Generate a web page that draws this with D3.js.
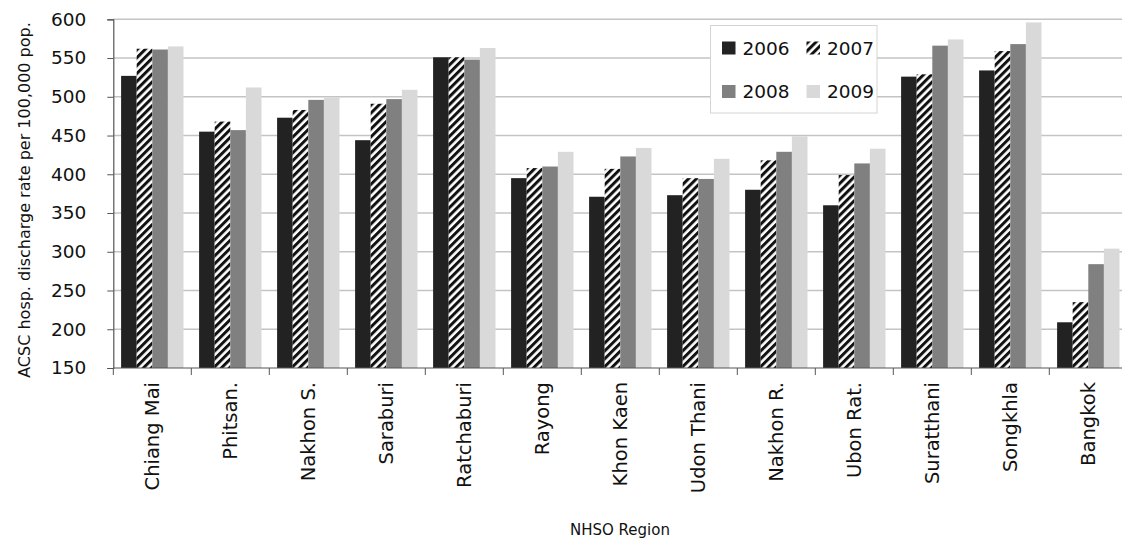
<!DOCTYPE html>
<html>
<head>
<meta charset="utf-8">
<script src="https://cdn.jsdelivr.net/npm/d3@7"></script>
<style>
  body { margin: 0; background: #fff; }
  svg { display: block; font-family: "DejaVu Sans", sans-serif; }
</style>
</head>
<body>
<svg id="chart"></svg>
<script>
// Data
const categories = ["Chiang Mai", "Phitsan.", "Nakhon S.", "Saraburi", "Ratchaburi", "Rayong",
  "Khon Kaen", "Udon Thani", "Nakhon R.", "Ubon Rat.", "Suratthani", "Songkhla", "Bangkok"];
const years = ["2006", "2007", "2008", "2009"];
const v2006 = [527, 455, 473, 444, 551, 395, 371, 373, 380, 360, 526, 534, 209];
const v2007 = [562, 468, 483, 491, 551, 408, 407, 395, 418, 399, 529, 559, 235];
const v2008 = [561, 457, 496, 497, 548, 410, 423, 394, 429, 414, 566, 568, 284];
const v2009 = [565, 512, 499, 509, 563, 429, 434, 420, 449, 433, 574, 596, 304];
const yTicks = [150, 200, 250, 300, 350, 400, 450, 500, 550, 600];

const series = [v2006, v2007, v2008, v2009];
const fills = ["#222222", "url(#hatch)", "#808080", "#d9d9d9"];

const width = 1122, height = 544;
const plotLeft = 113.3, plotTop = 19.3, plotBottom = 368, band = 78;

const svg = d3.select("#chart")
  .attr("width", width)
  .attr("height", height)
  .attr("viewBox", `0 0 ${width} ${height}`);

// Hatch pattern for 2007
const pat = svg.append("defs").append("pattern")
  .attr("id", "hatch")
  .attr("patternUnits", "userSpaceOnUse")
  .attr("width", 5.6)
  .attr("height", 5.6)
  .attr("patternTransform", "rotate(45)");
pat.append("rect").attr("width", 5.6).attr("height", 5.6).attr("fill", "#fff");
pat.append("rect").attr("width", 3).attr("height", 5.6).attr("fill", "#111");

// Scales
const x = d3.scaleBand()
  .domain(categories)
  .range([plotLeft, plotLeft + band * categories.length]);

const xSub = d3.scaleBand()
  .domain(years)
  .range([0, x.bandwidth()])
  .paddingOuter(0.5);

const y = d3.scaleLinear()
  .domain([150, 600])
  .range([plotBottom, plotTop]);

// Gridlines
svg.append("g")
  .selectAll("line")
  .data(yTicks.slice(1))
  .enter()
  .append("line")
  .attr("x1", plotLeft)
  .attr("x2", width)
  .attr("y1", d => y(d))
  .attr("y2", d => y(d))
  .attr("stroke", "#c4c4c4")
  .attr("stroke-width", 1.6);

// Bars
const groups = svg.append("g")
  .selectAll("g")
  .data(categories)
  .enter()
  .append("g")
  .attr("transform", d => `translate(${x(d)},0)`);

groups.selectAll("rect")
  .data((d, i) => years.map((yr, j) => ({ yr, j, v: series[j][i] })))
  .enter()
  .append("rect")
  .attr("x", d => xSub(d.yr))
  .attr("width", xSub.bandwidth())
  .attr("y", d => y(d.v))
  .attr("height", d => y(150) - y(d.v))
  .attr("fill", d => fills[d.j]);

// Y axis
const yAxis = svg.append("g")
  .attr("transform", `translate(${plotLeft},0)`)
  .call(d3.axisLeft(y).tickValues(yTicks).tickSize(6).tickPadding(21));
yAxis.select(".domain").attr("stroke", "#555").attr("stroke-width", 1.2);
yAxis.selectAll(".tick line").attr("stroke", "#555");
yAxis.selectAll(".tick text")
  .attr("font-size", 18.5)
  .attr("font-family", "DejaVu Sans")
  .attr("fill", "#111");

// X axis with ticks at category boundaries
const xAxis = svg.append("g");
xAxis.append("line")
  .attr("x1", plotLeft)
  .attr("x2", width)
  .attr("y1", plotBottom)
  .attr("y2", plotBottom)
  .attr("stroke", "#555")
  .attr("stroke-width", 1.2);
xAxis.selectAll(".bt")
  .data(categories)
  .enter()
  .append("line")
  .attr("x1", d => x(d))
  .attr("x2", d => x(d))
  .attr("y1", plotBottom)
  .attr("y2", plotBottom + 7)
  .attr("stroke", "#555");
xAxis.selectAll("text")
  .data(categories)
  .enter()
  .append("text")
  .attr("transform", d => `translate(${x(d) + x.bandwidth() / 2},382) rotate(-90)`)
  .attr("text-anchor", "end")
  .attr("dy", "0.36em")
  .attr("font-size", 19.5)
  .attr("fill", "#111")
  .text(d => d);

// Axis titles
svg.append("text")
  .attr("transform", "translate(29.5,200) rotate(-90)")
  .attr("text-anchor", "middle")
  .attr("font-size", 16)
  .attr("fill", "#111")
  .text("ACSC hosp. discharge rate per 100,000 pop.");

svg.append("text")
  .attr("x", 620)
  .attr("y", 535)
  .attr("text-anchor", "middle")
  .attr("font-size", 15)
  .attr("fill", "#111")
  .text("NHSO Region");

// Legend
const legend = svg.append("g");
legend.append("rect")
  .attr("x", 710.5)
  .attr("y", 25.5)
  .attr("width", 166.5)
  .attr("height", 87.5)
  .attr("fill", "#fff")
  .attr("stroke", "#d4d4d4");

const item = legend.selectAll(".item")
  .data(years)
  .enter()
  .append("g")
  .attr("transform", (d, i) => `translate(${722 + (i % 2) * 84.5},${41.5 + Math.floor(i / 2) * 43.5})`);
item.append("rect")
  .attr("width", 13.5)
  .attr("height", 13)
  .attr("fill", (d, i) => fills[i]);
item.append("text")
  .attr("x", 20.5)
  .attr("y", 6.5)
  .attr("dy", "0.36em")
  .attr("font-size", 18.5)
  .attr("fill", "#111")
  .text(d => d);
</script>
</body>
</html>
